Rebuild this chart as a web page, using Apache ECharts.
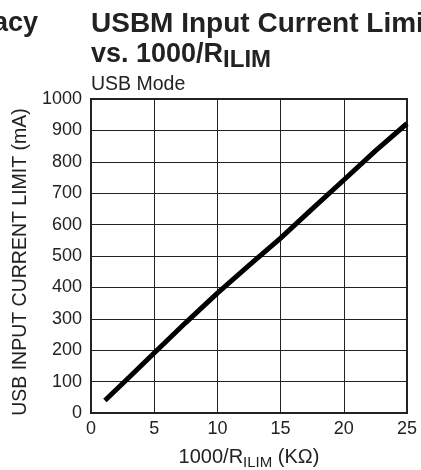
<!DOCTYPE html>
<html><head><meta charset="utf-8">
<script src="https://cdn.jsdelivr.net/npm/echarts@6/dist/echarts.min.js"></script>
<style>html,body{margin:0;padding:0;background:#fff}#c{width:421px;height:470px}</style>
</head><body><div id="c"></div>
<script>
const xValues = [1.1, 3, 5, 7.5, 10, 12.5, 15, 17.5, 20, 22.5, 25];
const yValues = [40, 113, 191, 288, 382, 470, 557, 650, 742, 835, 922];
const xTicks = [0, 5, 10, 15, 20, 25];
const yTicks = [0, 100, 200, 300, 400, 500, 600, 700, 800, 900, 1000];

const chart = echarts.init(document.getElementById('c'), null, {renderer: 'canvas'});
const font = 'Liberation Sans, Arial, sans-serif';
chart.setOption({
  animation: false,
  grid: {left: 91, right: 14, top: 99, bottom: 57, show: true, borderColor: '#222', borderWidth: 2,
         containLabel: false, outerBoundsMode: 'none'},
  xAxis: {
    type: 'value', min: xTicks[0], max: xTicks[xTicks.length - 1], interval: xTicks[1] - xTicks[0],
    axisLine: {show: true, lineStyle: {color: '#222', width: 2}},
    axisTick: {show: false},
    splitLine: {show: true, lineStyle: {color: '#222', width: 1}},
    axisLabel: {color: '#222', fontSize: 18, fontFamily: font, margin: 7, formatter: v => String(v)},
    name: '{n|1000/R}{s|ILIM}{n| (KΩ)}',
    nameLocation: 'middle', nameGap: 32,
    nameTextStyle: {rich: {
      n: {fontSize: 20, fontFamily: font, color: '#222'},
      s: {fontSize: 15, fontFamily: font, color: '#222', padding: [10, 0, 0, 0]}
    }}
  },
  yAxis: {
    type: 'value', min: yTicks[0], max: yTicks[yTicks.length - 1], interval: yTicks[1] - yTicks[0],
    axisLine: {show: true, lineStyle: {color: '#222', width: 2}},
    axisTick: {show: false},
    splitLine: {show: true, lineStyle: {color: '#222', width: 1}},
    axisLabel: {color: '#222', fontSize: 18, fontFamily: font, margin: 9, formatter: v => String(v)},
    name: 'USB INPUT CURRENT LIMIT (mA)',
    nameLocation: 'middle', nameGap: 58,
    nameTextStyle: {fontSize: 19.5, fontFamily: font, color: '#222', padding: [0, 12, 0, 0]}
  },
  series: [{
    type: 'line',
    data: xValues.map((x, i) => [x, yValues[i]]),
    showSymbol: false, smooth: false,
    lineStyle: {color: '#000', width: 5}
  }],
  graphic: [
    {type: 'text', left: -7, top: 10, style: {text: 'acy', font: 'bold 27px ' + font, fill: '#222'}},
    {type: 'text', left: 91, top: 10, style: {text: 'USBM Input Current Limit', font: 'bold 28px ' + font, fill: '#222'}},
    {type: 'text', left: 91, top: 41, style: {
      text: '{b|vs. 1000/R}{s|ILIM}',
      rich: {
        b: {font: 'bold 27px ' + font, fill: '#222'},
        s: {font: 'bold 24px ' + font, fill: '#222', padding: [12, 0, 0, 0]}
      }
    }},
    {type: 'text', left: 91, top: 75, style: {text: 'USB Mode', font: '19.5px ' + font, fill: '#222'}}
  ]
});
</script></body></html>
